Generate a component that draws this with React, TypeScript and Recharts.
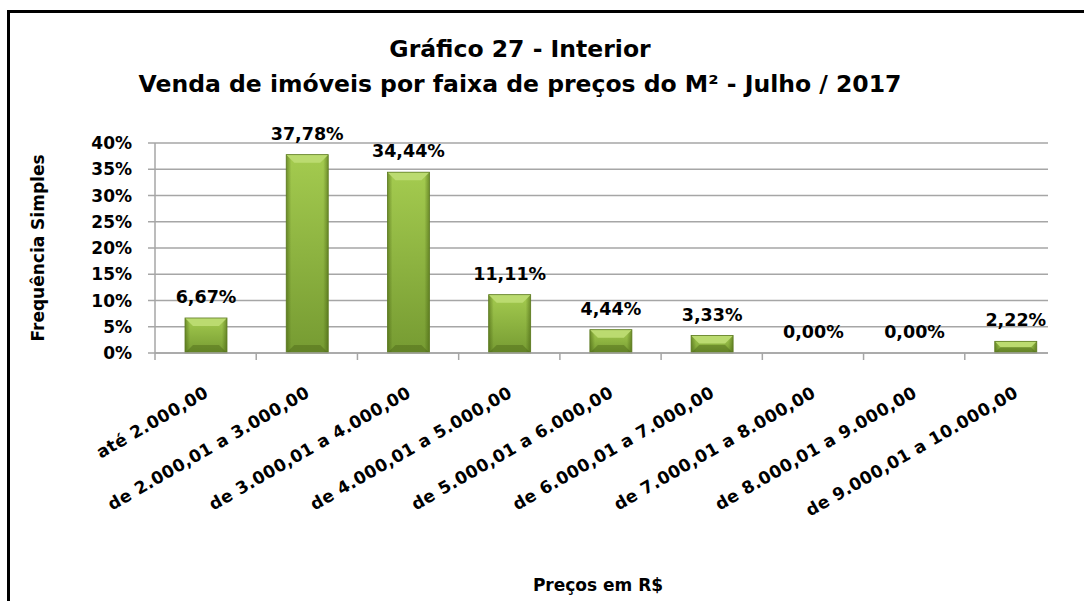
import { BarChart, Bar, XAxis, YAxis, CartesianGrid, LabelList } from 'recharts'

const faixas = [
  'até 2.000,00',
  'de 2.000,01 a 3.000,00',
  'de 3.000,01 a 4.000,00',
  'de 4.000,01 a 5.000,00',
  'de 5.000,01 a 6.000,00',
  'de 6.000,01 a 7.000,00',
  'de 7.000,01 a 8.000,00',
  'de 8.000,01 a 9.000,00',
  'de 9.000,01 a 10.000,00',
]
const frequencia = [6.67, 37.78, 34.44, 11.11, 4.44, 3.33, 0, 0, 2.22]
const yTicks = [0, 5, 10, 15, 20, 25, 30, 35, 40]

const data = faixas.map((faixa, i) => ({ faixa, freq: frequencia[i] }))

const FONT = '"DejaVu Sans", sans-serif'
const GRID = '#a6a6a6'

function pct(v: number) {
  return `${v.toFixed(2).replace('.', ',')}%`
}

// green bar with bevelled top/bottom like the old excel 3d-ish style
function BevelBar(props: any) {
  const { x, y, width: w, height: h } = props
  if (!h || h <= 0) return null
  const b = Math.min(8, h / 2)
  return (
    <g>
      <rect x={x} y={y} width={w} height={h} fill="url(#barBody)" />
      <rect x={x} y={y} width={w} height={h} fill="url(#barSides)" />
      <polygon points={`${x},${y} ${x + w},${y} ${x + w - b},${y + b} ${x + b},${y + b}`} fill="#bbdb70" />
      <polygon
        points={`${x + b},${y + h - b} ${x + w - b},${y + h - b} ${x + w},${y + h} ${x},${y + h}`}
        fill="rgba(70,95,20,0.4)"
      />
      <rect x={x} y={y} width={w} height={h} fill="none" stroke="#5d7a22" strokeWidth={0.8} />
    </g>
  )
}

function FaixaTick({ x, y, payload }: any) {
  const half = payload?.offset ?? 50.6
  const tx = x + 4
  const ty = y + 43
  return (
    <g>
      <line x1={x - half} y1={y} x2={x - half} y2={y + 7} stroke={GRID} strokeWidth={1.5} />
      <text
        x={tx}
        y={ty}
        textAnchor="end"
        transform={`rotate(-30, ${tx}, ${ty})`}
        fontFamily={FONT}
        fontWeight="bold"
        fontSize={17}
        letterSpacing={0.4}
        fill="#000"
      >
        {payload.value}
      </text>
    </g>
  )
}

export default function App() {
  return (
    <div style={{ position: 'absolute', left: 0, top: 0, width: 1084, height: 601, overflow: 'hidden', background: '#fff' }}>
      <div style={{ position: 'absolute', left: 7, top: 10, width: 1110, height: 640, border: '3px solid #000' }} />
      <BarChart
        width={1084}
        height={601}
        data={data}
        margin={{ top: 143, right: 36, bottom: 0, left: 5 }}
        style={{ position: 'absolute', left: 0, top: 0 }}
      >
        <CartesianGrid vertical={false} stroke={GRID} strokeWidth={1.5} />
        <XAxis
          dataKey="faixa"
          interval={0}
          padding={{ left: 0, right: -18 }}
          axisLine={{ stroke: GRID, strokeWidth: 1.5 }}
          tickLine={false}
          tickSize={0}
          tickMargin={0}
          height={248}
          tick={<FaixaTick />}
        />
        <YAxis
          width={150}
          domain={[0, 40]}
          ticks={yTicks}
          interval={0}
          tickFormatter={(v: number) => `${v}%`}
          axisLine={{ stroke: GRID, strokeWidth: 1.5 }}
          tickLine={{ stroke: GRID, strokeWidth: 1.5 }}
          tickSize={7}
          tickMargin={16}
          tick={{ fill: '#000', fontSize: 17, fontWeight: 'bold', fontFamily: FONT }}
        />
        <Bar dataKey="freq" barSize={42} shape={<BevelBar />} isAnimationActive={false}>
          <LabelList
            dataKey="freq"
            position="top"
            offset={15}
            formatter={(v: any) => pct(Number(v))}
            style={{ fill: '#000', fontSize: 17.5, fontWeight: 'bold', fontFamily: FONT }}
          />
        </Bar>
      </BarChart>
      <svg width={1084} height={601} style={{ position: 'absolute', left: 0, top: 0, pointerEvents: 'none' }}>
        <defs>
          <linearGradient id="barBody" x1="0" y1="0" x2="0" y2="1">
            <stop offset="0%" stopColor="#a4cb4f" />
            <stop offset="100%" stopColor="#769b32" />
          </linearGradient>
          <linearGradient id="barSides" x1="0" y1="0" x2="1" y2="0">
            <stop offset="0%" stopColor="rgba(60,85,10,0.5)" />
            <stop offset="12%" stopColor="rgba(60,85,10,0)" />
            <stop offset="88%" stopColor="rgba(60,85,10,0)" />
            <stop offset="100%" stopColor="rgba(60,85,10,0.5)" />
          </linearGradient>
        </defs>
        <g fontFamily={FONT} fontWeight="bold" fill="#000" textAnchor="middle">
          <text x={520} y={57} fontSize={23.5}>Gráfico 27 - Interior</text>
          <text x={520} y={92} fontSize={23.5}>Venda de imóveis por faixa de preços do M² - Julho / 2017</text>
          <text x={598} y={591} fontSize={17}>Preços em R$</text>
          <text x={38} y={248} fontSize={17} transform="rotate(-90, 38, 248)" dominantBaseline="central">
            Frequência Simples
          </text>
        </g>
      </svg>
    </div>
  )
}
